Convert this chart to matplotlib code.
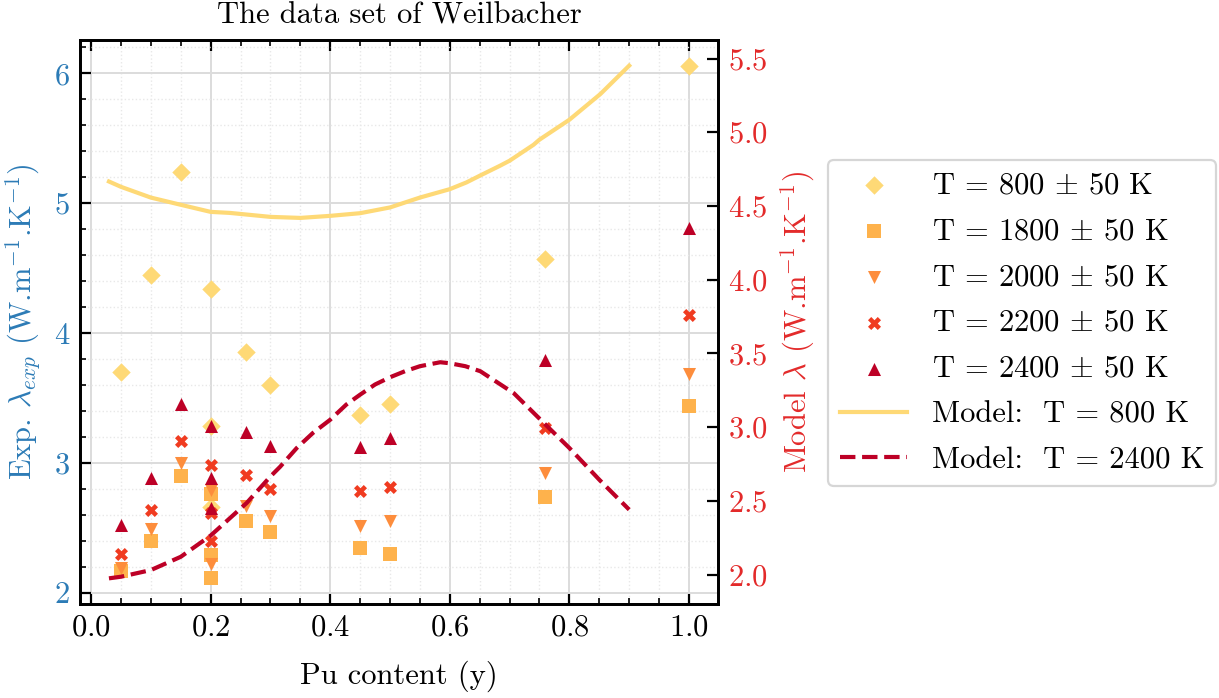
import numpy as np
import matplotlib
matplotlib.use("Agg")
import matplotlib.pyplot as plt
from matplotlib.ticker import MultipleLocator

plt.rcParams['font.family'] = ['cmr10', 'DejaVu Serif']
plt.rcParams['mathtext.fontset'] = 'cm'
plt.rcParams['axes.formatter.use_mathtext'] = True
plt.rcParams['font.size'] = 11
plt.rcParams['axes.unicode_minus'] = False

# experimental data (Pu content, conductivity W/m/K)
x_800 = [0.05, 0.1, 0.15, 0.2, 0.2, 0.2, 0.26, 0.3, 0.45, 0.5, 0.76, 1.0]
y_800 = [3.70, 4.45, 5.24, 4.34, 3.28, 2.66, 3.85, 3.60, 3.365, 3.455, 4.57, 6.06]

x_1800 = [0.05, 0.1, 0.15, 0.2, 0.2, 0.2, 0.26, 0.3, 0.45, 0.5, 0.76, 1.0]
y_1800 = [2.17, 2.40, 2.90, 2.76, 2.29, 2.11, 2.55, 2.47, 2.34, 2.295, 2.74, 3.435]

x_2000 = [0.05, 0.1, 0.15, 0.2, 0.2, 0.26, 0.3, 0.45, 0.5, 0.76, 1.0]
y_2000 = [2.19, 2.49, 3.00, 2.79, 2.22, 2.67, 2.59, 2.51, 2.55, 2.92, 3.685]

x_2200 = [0.05, 0.1, 0.15, 0.2, 0.2, 0.2, 0.26, 0.3, 0.45, 0.5, 0.76, 1.0]
y_2200 = [2.30, 2.64, 3.17, 2.98, 2.61, 2.40, 2.91, 2.80, 2.78, 2.816, 3.27, 4.136]

x_2400 = [0.05, 0.1, 0.15, 0.2, 0.2, 0.2, 0.26, 0.3, 0.45, 0.5, 0.76, 1.0]
y_2400 = [2.52, 2.88, 3.45, 3.28, 2.88, 2.65, 3.24, 3.13, 3.12, 3.195, 3.79, 4.81]

# model curves (right axis)
xm_800 = [0.03, 0.05, 0.1, 0.148, 0.2, 0.232, 0.3, 0.35, 0.4, 0.45, 0.5, 0.55,
          0.6, 0.628, 0.65, 0.684, 0.7, 0.74, 0.75, 0.8, 0.852, 0.9]
ym_800 = [4.666, 4.63, 4.557, 4.51, 4.46, 4.453, 4.426, 4.419, 4.433, 4.451, 4.49, 4.557,
          4.614, 4.66, 4.705, 4.773, 4.807, 4.915, 4.95, 5.085, 5.26, 5.452]

xm_2400 = [0.03, 0.05, 0.1, 0.15, 0.2, 0.26, 0.3, 0.316, 0.344, 0.371, 0.4, 0.427,
           0.45, 0.475, 0.5, 0.525, 0.55, 0.584, 0.6, 0.626, 0.651, 0.707, 0.76,
           0.8, 0.85, 0.9]
ym_2400 = [1.974, 1.985, 2.03, 2.12, 2.264, 2.484, 2.665, 2.73, 2.858, 2.96, 3.05, 3.153,
           3.22, 3.289, 3.338, 3.379, 3.413, 3.44, 3.433, 3.413, 3.379, 3.23, 3.017,
           2.858, 2.643, 2.44]

c_blue = '#2c7bb6'
c_red = '#e32a2a'

fig = plt.figure(figsize=(6.095, 3.49), dpi=200)
ax = fig.add_axes([0.0656, 0.1347, 0.5234, 0.808])

s = 22
ax.scatter(x_800, y_800, s=s, marker='D', color='#fed976', label=r'T = 800 $\pm$ 50 K', zorder=3, linewidths=0)
ax.scatter(x_1800, y_1800, s=s, marker='s', color='#feb24c', label=r'T = 1800 $\pm$ 50 K', zorder=3, linewidths=0)
ax.scatter(x_2000, y_2000, s=s, marker='v', color='#fd8d3c', label=r'T = 2000 $\pm$ 50 K', zorder=3, linewidths=0)
ax.scatter(x_2200, y_2200, s=s, marker='X', color='#f03b20', label=r'T = 2200 $\pm$ 50 K', zorder=3, linewidths=0)
ax.scatter(x_2400, y_2400, s=s, marker='^', color='#bd0026', label=r'T = 2400 $\pm$ 50 K', zorder=3, linewidths=0)

ax.set_xlabel('Pu content (y)', labelpad=7)
ax.set_ylabel(r'Exp. $\lambda_{exp}$ (W.m$^{-1}$.K$^{-1}$)', color=c_blue)
ax.set_title('The data set of Weilbacher', fontsize=11)

ax.xaxis.set_major_locator(MultipleLocator(0.2))
ax.xaxis.set_minor_locator(MultipleLocator(0.05))
ax.yaxis.set_major_locator(MultipleLocator(1))
ax.yaxis.set_minor_locator(MultipleLocator(0.2))
ax.tick_params(which='both', direction='in', top=True, right=False)
ax.tick_params(which='major', length=4, width=0.8)
ax.tick_params(which='minor', length=2, width=0.6)
ax.tick_params(axis='y', which='both', colors='black', labelcolor=c_blue)
ax.grid(which='major', color='#dcdcdc', lw=0.7)
ax.grid(which='minor', color='#e8e8e8', lw=0.5, ls=':')
ax.set_axisbelow(True)
for sp in ax.spines.values():
    sp.set_linewidth(1.0)

ax2 = ax.twinx()
ax2.plot(xm_800, ym_800, color='#fed976', lw=1.5, label='Model:  T = 800 K')
ax2.plot(xm_2400, ym_2400, color='#bd0026', lw=1.5, ls='--', label='Model:  T = 2400 K')
ax2.set_ylabel(r'Model $\lambda$ (W.m$^{-1}$.K$^{-1}$)', color=c_red)
ax2.yaxis.set_major_locator(MultipleLocator(0.5))
ax2.tick_params(which='major', direction='in', length=4, width=0.8, labelcolor=c_red)
ax2.tick_params(which='minor', right=False)
for sp in ax2.spines.values():
    sp.set_linewidth(1.0)

h1, l1 = ax.get_legend_handles_labels()
h2, l2 = ax2.get_legend_handles_labels()
leg = fig.legend(h1 + h2, l1 + l2, loc='upper left', bbox_to_anchor=(0.679, 0.771),
                 borderaxespad=0, frameon=True, fancybox=True, handlelength=2.2,
                 labelspacing=0.6)
leg.get_frame().set_edgecolor('#cccccc')
leg.get_frame().set_linewidth(0.8)

fig.savefig('out.png', dpi=200)
